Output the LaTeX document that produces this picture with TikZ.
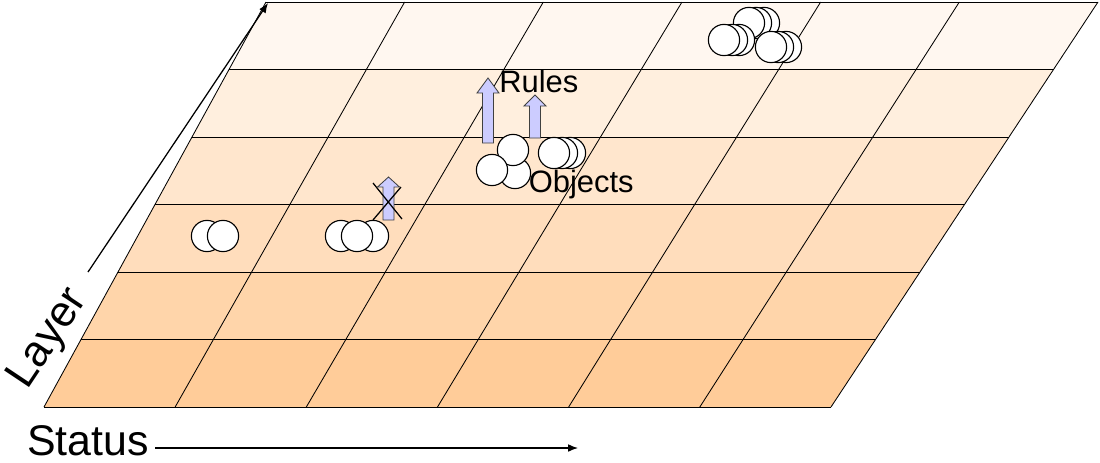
\documentclass[tikz,border=0pt]{standalone}
\usepackage{fontspec}
\setmainfont{Liberation Sans}
\usetikzlibrary{calc,arrows.meta}

\definecolor{tier}{RGB}{255,204,153}
\definecolor{rulefill}{RGB}{204,204,255}

\tikzset{
  ball/.style={circle, draw=black, line width=0.8pt, fill=white, minimum size=0.78cm, inner sep=0pt},
  upblock/.style={draw=black!75, fill=rulefill, line width=0.6pt, line join=miter},
  axis/.style={line width=0.9pt, -{Latex[length=7pt,width=5.5pt]}},
  word/.style={inner sep=0pt, anchor=base west, font=\fontsize{22}{24}\selectfont}
}

% block arrow pointing up: x, base, neck, tip
\newcommand{\ruleup}[4]{%
  \draw[upblock] (#1-5.5,#2) -- (#1-5.5,#3) -- (#1-11,#3) -- (#1,#4)
    -- (#1+11,#3) -- (#1+5.5,#3) -- (#1+5.5,#2) -- cycle;}

\begin{document}
\begin{tikzpicture}[x=0.025cm, y=-0.025cm, line join=round]
  \useasboundingbox (0,0) rectangle (1100,462);

  % corners of the board
  \coordinate (BL) at (44,407);
  \coordinate (BR) at (831,407);
  \coordinate (TL) at (266,2);
  \coordinate (TR) at (1098,2);

  % rows, darker towards the front
  \foreach \i/\p in {0/100,1/83,2/66,3/49,4/32,5/15}{
    \pgfmathsetmacro{\a}{\i/6}
    \pgfmathsetmacro{\b}{(\i+1)/6}
    \fill[tier!\p] ($(BL)!\a!(TL)$) -- ($(BR)!\a!(TR)$) -- ($(BR)!\b!(TR)$) -- ($(BL)!\b!(TL)$) -- cycle;
  }

  % grid lines
  \foreach \i in {0,...,6}{
    \draw[line width=0.6pt] ($(BL)!\i/6!(TL)$) -- ($(BR)!\i/6!(TR)$);
    \draw[line width=0.6pt] ($(BL)!\i/6!(BR)$) -- ($(TL)!\i/6!(TR)$);
  }

  % axes
  \coordinate (layer0) at (88,272);
  \coordinate (layer1) at (268,3);
  \coordinate (status0) at (155,448);
  \coordinate (status1) at (578,448);
  \draw[axis] (layer0) -- (layer1);
  \draw[axis] (status0) -- (status1);
  \node[rotate=56.3, inner sep=0pt, font=\fontsize{31}{33}\selectfont] (layer) at (49,339) {Layer};
  \node[word, font=\fontsize{30.5}{33}\selectfont] (status) at (27,455) {Status};

  % rules
  \ruleup{488}{143}{93}{78}
  \ruleup{535}{138}{106}{95}
  \ruleup{388.5}{220}{187}{177}
  \draw[line width=0.9pt] (373,183) -- (402,219);
  \draw[line width=0.9pt] (401,187) -- (373,220);

  % objects
  \node[ball] (p1) at (207,236) {};
  \node[ball] (p2) at (223,236) {};
  \node[ball] (t1) at (341,236) {};
  \node[ball] (t3) at (373,236) {};
  \node[ball] (t2) at (357,236) {};

  \node[ball] (o2) at (515,173) {};
  \node[ball] (o3) at (513,150) {};
  \node[ball] (o1) at (492,170) {};
  \foreach \x [count=\k] in {570,562,554}
    \node[ball] (s\k) at (\x,153) {};

  \foreach \x [count=\k] in {764,756,749}
    \node[ball] (u\k) at (\x,23) {};
  \foreach \x [count=\k] in {739,732,724}
    \node[ball] (v\k) at (\x,40) {};
  \foreach \x [count=\k] in {786,778,771}
    \node[ball] (w\k) at (\x,47) {};

  % labels
  \node[word] (rules) at (499,92) {Rules};
  \node[word] (objects) at (528.5,192) {Objects};
\end{tikzpicture}
\end{document}
